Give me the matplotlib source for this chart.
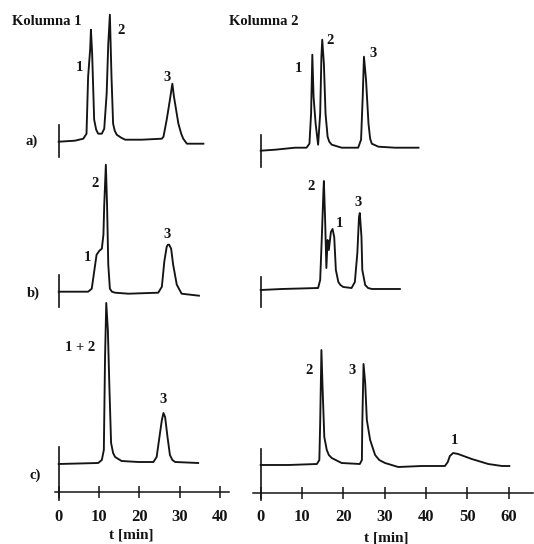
import matplotlib
matplotlib.use("Agg")
import matplotlib.pyplot as plt

W, H = 534, 544
SERIF = ["Liberation Serif", "DejaVu Serif"]
INK = "#141414"

# ---- Kolumna 1 chromatograms (time in min, detector response in a.u.) ----
t_1a = [0, 4.0, 6.1, 6.9, 7.3, 7.8, 8.0, 8.3, 8.8, 9.3, 9.8, 10.7, 11.3, 11.9, 12.3, 12.7,
        13.1, 13.5, 13.9, 14.4, 15.5, 16.5, 20.6, 25.6, 26.0, 26.8, 27.6, 28.2, 28.6,
        29.7, 30.4, 30.9, 31.8, 35.9]
s_1a = [0, 1, 3, 8, 65, 92, 112, 88, 22, 12, 8, 8, 13, 48, 98, 127,
        65, 18, 11, 7, 4, 2, 2, 3, 5, 22, 42, 58, 45,
        18, 8, 3, -2, -2]

t_1b = [0, 7.3, 8.2, 8.8, 9.4, 10.1, 10.7, 11.1, 11.3, 11.7, 12.0, 12.3, 12.7, 13.2, 14.0,
        17.3, 24.7, 25.6, 26.2, 26.8, 27.1, 27.4, 27.9, 28.4, 29.3, 30.5, 34.8]
s_1b = [0, 0, 3, 20, 37, 41, 43, 57, 87, 127, 87, 27, 3, 0, -1,
        -2, -1, 5, 30, 45, 47, 47, 43, 27, 7, -2, -4]

t_1c = [0, 9.8, 10.7, 11.2, 11.5, 11.8, 12.2, 12.6, 13.0, 13.5, 14.0, 15.6, 19.8, 23.5,
        24.3, 25.0, 25.6, 26.0, 26.4, 27.0, 27.6, 28.2, 28.9, 34.6]
s_1c = [0, 1, 4, 14, 107, 161, 134, 74, 21, 11, 7, 3, 2, 2,
        7, 27, 44, 51, 47, 27, 9, 4, 2, 1]

# ---- Kolumna 2 chromatograms ----
t_2a = [0, 3.5, 8.3, 11.1, 11.8, 12.2, 12.5, 12.8, 13.3, 13.9, 14.4, 14.7, 14.9, 15.3,
        15.7, 16.2, 16.6, 17.2, 19.6, 23.6, 24.3, 24.7, 25.0, 25.5, 26.1, 26.5, 26.9,
        28.5, 32.5, 38.2]
s_2a = [0, 1, 3, 3, 7, 37, 96, 54, 27, 6, 37, 94, 111, 87,
        37, 14, 9, 6, 3, 3, 11, 54, 94, 71, 27, 12, 7,
        4, 3, 3]

t_2b = [0, 5.1, 13.9, 14.4, 14.8, 15.2, 15.3, 15.6, 15.9, 16.2, 16.5, 17.0, 17.4, 17.8,
        18.2, 18.8, 19.3, 20.0, 22.0, 22.8, 23.4, 23.8, 24.0, 24.4, 24.6, 25.3, 26.0,
        26.9, 33.7]
s_2b = [0, 1, 2, 10, 53, 100, 109, 70, 22, 50, 40, 58, 61, 53,
        20, 8, 5, 3, 2, 8, 37, 73, 77, 53, 20, 5, 2,
        1, 1]

t_2c = [0, 6.7, 13.6, 14.2, 14.4, 14.7, 15.0, 15.4, 16.0, 16.5, 17.2, 19.6, 24.0, 24.5,
        24.6, 24.9, 25.3, 25.7, 26.5, 27.7, 28.7, 30.1, 33.3, 39.0, 44.6, 45.3, 45.8,
        46.6, 47.8, 51.1, 55.1, 58.4, 60.2]
s_2c = [0, 0, 1, 5, 42, 115, 75, 28, 15, 10, 7, 2, 1, 5,
        42, 101, 82, 45, 25, 10, 5, 2, -2, -1, -1, 3, 9,
        12, 11, 6, 1, -1, -1]

time_ticks = [[0, 10, 20, 30, 40], [0, 10, 20, 30, 40, 50, 60]]
column_titles = ["Kolumna 1", "Kolumna 2"]
row_labels = ["a)", "b)", "c)"]
axis_label = "t [min]"

fig = plt.figure(figsize=(W / 100, H / 100), dpi=100)
fig.patch.set_facecolor("white")


def px_text(x, y, s, size=11, **kw):
    fig.text(x / W, 1 - y / H, s, ha="center", va="center", fontsize=size,
             fontweight="bold", family=SERIF, color=INK, **kw)


def panel(x_zero, px_per_min, xlim, y_zero, ylim, spine, t, s, axis_at=None,
          axis_span=None, ticks=None):
    x0 = x_zero + xlim[0] * px_per_min
    w = (xlim[1] - xlim[0]) * px_per_min
    bottom = H - (y_zero - ylim[0])
    h = ylim[1] - ylim[0]
    ax = fig.add_axes([x0 / W, bottom / H, w / W, h / H])
    ax.set_facecolor("none")
    ax.set_xlim(*xlim)
    ax.set_ylim(*ylim)
    ax.plot(t, s, color=INK, lw=1.35, solid_joinstyle="round", clip_on=False)
    for side in ("top", "right"):
        ax.spines[side].set_visible(False)
    ax.spines["left"].set_position(("data", 0))
    ax.spines["left"].set_bounds(*spine)
    ax.spines["left"].set_linewidth(1.2)
    ax.spines["left"].set_color(INK)
    ax.set_yticks([])
    if axis_at is None:
        ax.spines["bottom"].set_visible(False)
        ax.set_xticks([])
    else:
        sp = ax.spines["bottom"]
        sp.set_position(("data", axis_at))
        sp.set_bounds(*axis_span)
        sp.set_linewidth(1.1)
        sp.set_color(INK)
        ax.set_xticks(ticks)
        ax.tick_params(axis="x", direction="inout", length=8, width=1.1,
                       color=INK, pad=8, labelsize=12)
        for lab in ax.get_xticklabels():
            lab.set_fontweight("bold")
            lab.set_family(SERIF)
            lab.set_color(INK)
    return ax


L0, LK = 58.7, 4.03
R0, RK = 260.7, 4.13
LX = (-2, 44)
RX = (-3, 66)

panel(L0, LK, LX, 141.7, (-20, 135), (-15, 16.7), t_1a, s_1a)
panel(L0, LK, LX, 291.7, (-20, 135), (-15, 16.7), t_1b, s_1b)
panel(L0, LK, LX, 464.0, (-40, 170), (-36, 17), t_1c, s_1c,
      axis_at=-28, axis_span=(-0.9, 42.3), ticks=time_ticks[0])

panel(R0, RK, RX, 150.7, (-20, 120), (-16, 15.7), t_2a, s_2a)
panel(R0, RK, RX, 290.0, (-20, 120), (-16.7, 13.3), t_2b, s_2b)
panel(R0, RK, RX, 465.0, (-40, 125), (-35, 16), t_2c, s_2c,
      axis_at=-27.7, axis_span=(-1.9, 65.9), ticks=time_ticks[1])

# column titles, row labels, axis titles
px_text(46.5, 21.7, column_titles[0], size=10.5)
px_text(264.0, 21.7, column_titles[1], size=10.5)
for lab, yy, xx in zip(row_labels, (141.7, 293.3, 475.7), (31.7, 33.0, 35.0)):
    px_text(xx, yy, lab, size=10.5)
px_text(131.7, 535.0, axis_label, size=11)
px_text(386.7, 537.7, axis_label, size=11)

# peak identifiers
peak_labels = [
    ("1", 79.0, 67.3), ("2", 120.7, 31.0), ("3", 167.3, 77.7),
    ("2", 95.0, 183.3), ("1", 87.7, 257.7), ("3", 167.3, 234.3),
    ("1 + 2", 80.0, 347.3), ("3", 163.3, 399.3),
    ("1", 298.3, 68.3), ("2", 330.3, 41.0), ("3", 373.3, 53.3),
    ("2", 311.0, 186.7), ("1", 339.0, 223.3), ("3", 358.3, 202.3),
    ("2", 309.3, 370.0), ("3", 351.7, 371.0), ("1", 454.0, 440.0),
]
for s, xx, yy in peak_labels:
    px_text(xx, yy, s, size=10.5)

fig.savefig("out.png", dpi=100, facecolor="white")
